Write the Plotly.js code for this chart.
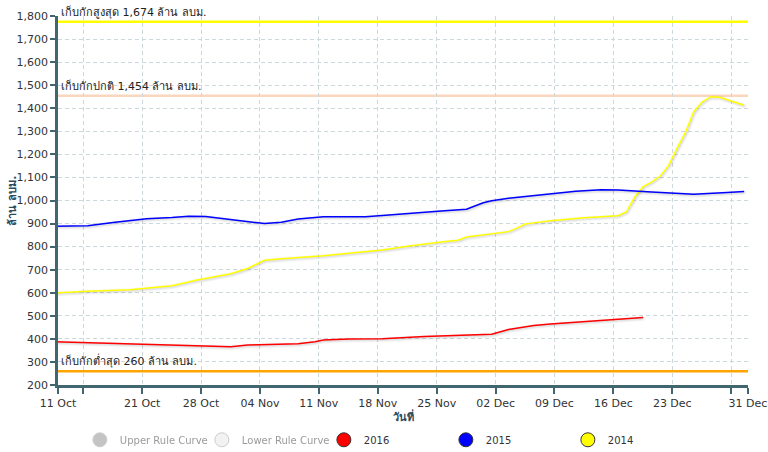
<!DOCTYPE html>
<html>
<head>
<meta charset="utf-8">
<script src="https://cdn.plot.ly/plotly-3.0.1.min.js"></script>
<style>
  html, body { margin: 0; padding: 0; background: #fff; }
  #chart { width: 768px; height: 452px; }
  .scatterlayer .js-line { filter: drop-shadow(1px 1.5px 0.8px rgba(0,0,0,0.25)); }
</style>
</head>
<body>
<div id="chart"></div>
<script>
// ---- data (dates are month-day, plotted on a common Oct–Dec axis) ----
const readingTime = ' 13:00';
const baseYear = '2015';

const dates2014 = ['10-10','10-11','10-14','10-19','10-21','10-24','10-27','10-31','11-02','11-04','11-06','11-11','11-18','11-21','11-25','11-27','11-28','12-01','12-03','12-04','12-05','12-06','12-08','12-12','12-16','12-17','12-18','12-19','12-20','12-21','12-22','12-23','12-24','12-25','12-26','12-27','12-28','12-31'];
const values2014 = [599,601,606,613,621,630,655,682,705,741,747,760,785,802,820,828,842,857,865,880,898,903,912,925,934,950,1015,1060,1080,1105,1150,1225,1293,1384,1427,1449,1449,1413];

const dates2015 = ['10-10','10-11','10-14','10-17','10-21','10-24','10-26','10-28','10-31','11-03','11-04','11-06','11-08','11-11','11-16','11-18','11-22','11-25','11-28','11-29','11-30','12-01','12-03','12-05','12-08','12-11','12-14','12-16','12-20','12-25','12-29','12-31'];
const values2015 = [888,889,891,905,921,926,932,931,919,904,900,906,920,929,930,935,948,955,962,975,990,999,1010,1017,1029,1040,1047,1045,1037,1027,1035,1039];

const dates2016 = ['10-10','10-11','10-15','10-21','10-25','10-29','10-31','11-02','11-05','11-08','11-10','11-11','11-14','11-18','11-23','11-27','12-01','12-03','12-06','12-08','12-13','12-15','12-19'];
const values2016 = [388,387,383,376,372,368,366,373,375,379,388,395,399,401,410,414,420,441,458,464,478,484,493];

const levelValues = [1775, 1454, 260];
const levelLabels = ['เก็บกักสูงสุด 1,674 ล้าน ลบม.', 'เก็บกักปกติ 1,454 ล้าน ลบม.', 'เก็บกักต่ำสุด 260 ล้าน ลบม.'];
const levelColors = ['#ffff00', '#fad6bd', '#ffa500'];

const tickDates = ['2015-10-11','2015-10-14','2015-10-21','2015-10-28','2015-11-04','2015-11-11','2015-11-18','2015-11-25','2015-12-02','2015-12-09','2015-12-16','2015-12-23','2015-12-30','2016-01-01'];
const tickLabels = ['11 Oct','','21 Oct','28 Oct','04 Nov','11 Nov','18 Nov','25 Nov','02 Dec','09 Dec','16 Dec','23 Dec','','31 Dec'];

const legendNames = ['Upper Rule Curve', 'Lower Rule Curve', '2016', '2015', '2014'];
const legendColors = ['#8a8a8a', '#e6e6e6', '#ff0000', '#0000ff', '#ffff00'];

const xTitle = 'วันที่';
const yTitle = 'ล้าน ลบม.';

// ---- build ----
const toX = arr => arr.map(md => baseYear + '-' + md + readingTime);
const font = 'DejaVu Sans, Tahoma, sans-serif';
const axisColor = '#41666f';
const titleColor = '#2c4c5c';

const traces = [];
legendNames.forEach((name, i) => {
  traces.push({
    type: 'scatter', mode: 'markers', x: [null], y: [null],
    name: name, legendgroup: name,
    visible: i < 2 ? 'legendonly' : true,
    marker: { symbol: 'circle', size: 14, color: legendColors[i], line: { color: i < 2 ? '#999' : '#333', width: 1 } },
    hoverinfo: 'skip'
  });
});
const series = [
  { name: '2014', d: dates2014, v: values2014, c: '#ffff00' },
  { name: '2015', d: dates2015, v: values2015, c: '#0000ff' },
  { name: '2016', d: dates2016, v: values2016, c: '#ff0000' }
];
series.forEach(s => {
  traces.push({
    type: 'scatter', mode: 'lines', x: toX(s.d), y: s.v,
    name: s.name, legendgroup: s.name, showlegend: false,
    line: { color: s.c, width: 1.5 }
  });
});

const shapes = levelValues.map((v, i) => ({
  type: 'line', xref: 'paper', x0: 0, x1: 1, yref: 'y', y0: v, y1: v,
  line: { color: levelColors[i], width: 2.5 }, layer: 'below'
}));
const annotations = levelValues.map((v, i) => ({
  xref: 'paper', x: 0, xanchor: 'left', xshift: 1,
  yref: 'y', y: v, yanchor: 'bottom', yshift: 1,
  text: levelLabels[i], showarrow: false,
  font: { family: font, size: 11, color: '#222' }
}));
annotations.push({
  xref: 'paper', x: 0.5, xanchor: 'center', yref: 'paper', y: 0, yanchor: 'middle', yshift: -31,
  text: '<b>' + xTitle + '</b>', showarrow: false,
  font: { family: font, size: 11, color: titleColor }
});
annotations.push({
  xref: 'paper', x: 0, xanchor: 'center', xshift: -46, yref: 'paper', y: 0.5, yanchor: 'middle',
  text: '<b>' + yTitle + '</b>', textangle: -90, showarrow: false,
  font: { family: font, size: 11, color: titleColor }
});

const layout = {
  width: 768, height: 452,
  margin: { l: 58, r: 20, t: 16, b: 67 },
  paper_bgcolor: '#fff', plot_bgcolor: '#fff',
  font: { family: font, size: 11, color: '#333' },
  showlegend: true,
  legend: {
    orientation: 'h', xref: 'container', yref: 'container',
    x: 0.104, xanchor: 'left', y: 0.027, yanchor: 'middle',
    entrywidth: 77, entrywidthmode: 'pixels',
    font: { family: font, size: 10, color: '#333' },
    itemclick: false, itemdoubleclick: false
  },
  xaxis: {
    type: 'date', range: ['2015-10-11', '2016-01-01'],
    tickmode: 'array', tickvals: tickDates, ticktext: tickLabels,
    showgrid: true, gridcolor: '#cdd8dc', griddash: '4px,3px', gridwidth: 1,
    showline: true, linecolor: axisColor, linewidth: 2.5,
    ticks: 'outside', ticklen: 6, tickwidth: 2, tickcolor: axisColor,
    tickfont: { family: font, size: 11, color: '#333' },
    zeroline: false
  },
  yaxis: {
    range: [200, 1800], dtick: 100, tick0: 0, tickformat: ',d',
    showgrid: true, gridcolor: '#cdd8dc', griddash: '4px,3px', gridwidth: 1,
    showline: true, linecolor: axisColor, linewidth: 2.5,
    ticks: 'outside', ticklen: 5, tickwidth: 2, tickcolor: axisColor,
    tickfont: { family: font, size: 11, color: '#333' },
    zeroline: false
  },
  shapes: shapes,
  annotations: annotations
};

Plotly.newPlot('chart', traces, layout, { displayModeBar: false });
</script>
</body>
</html>
